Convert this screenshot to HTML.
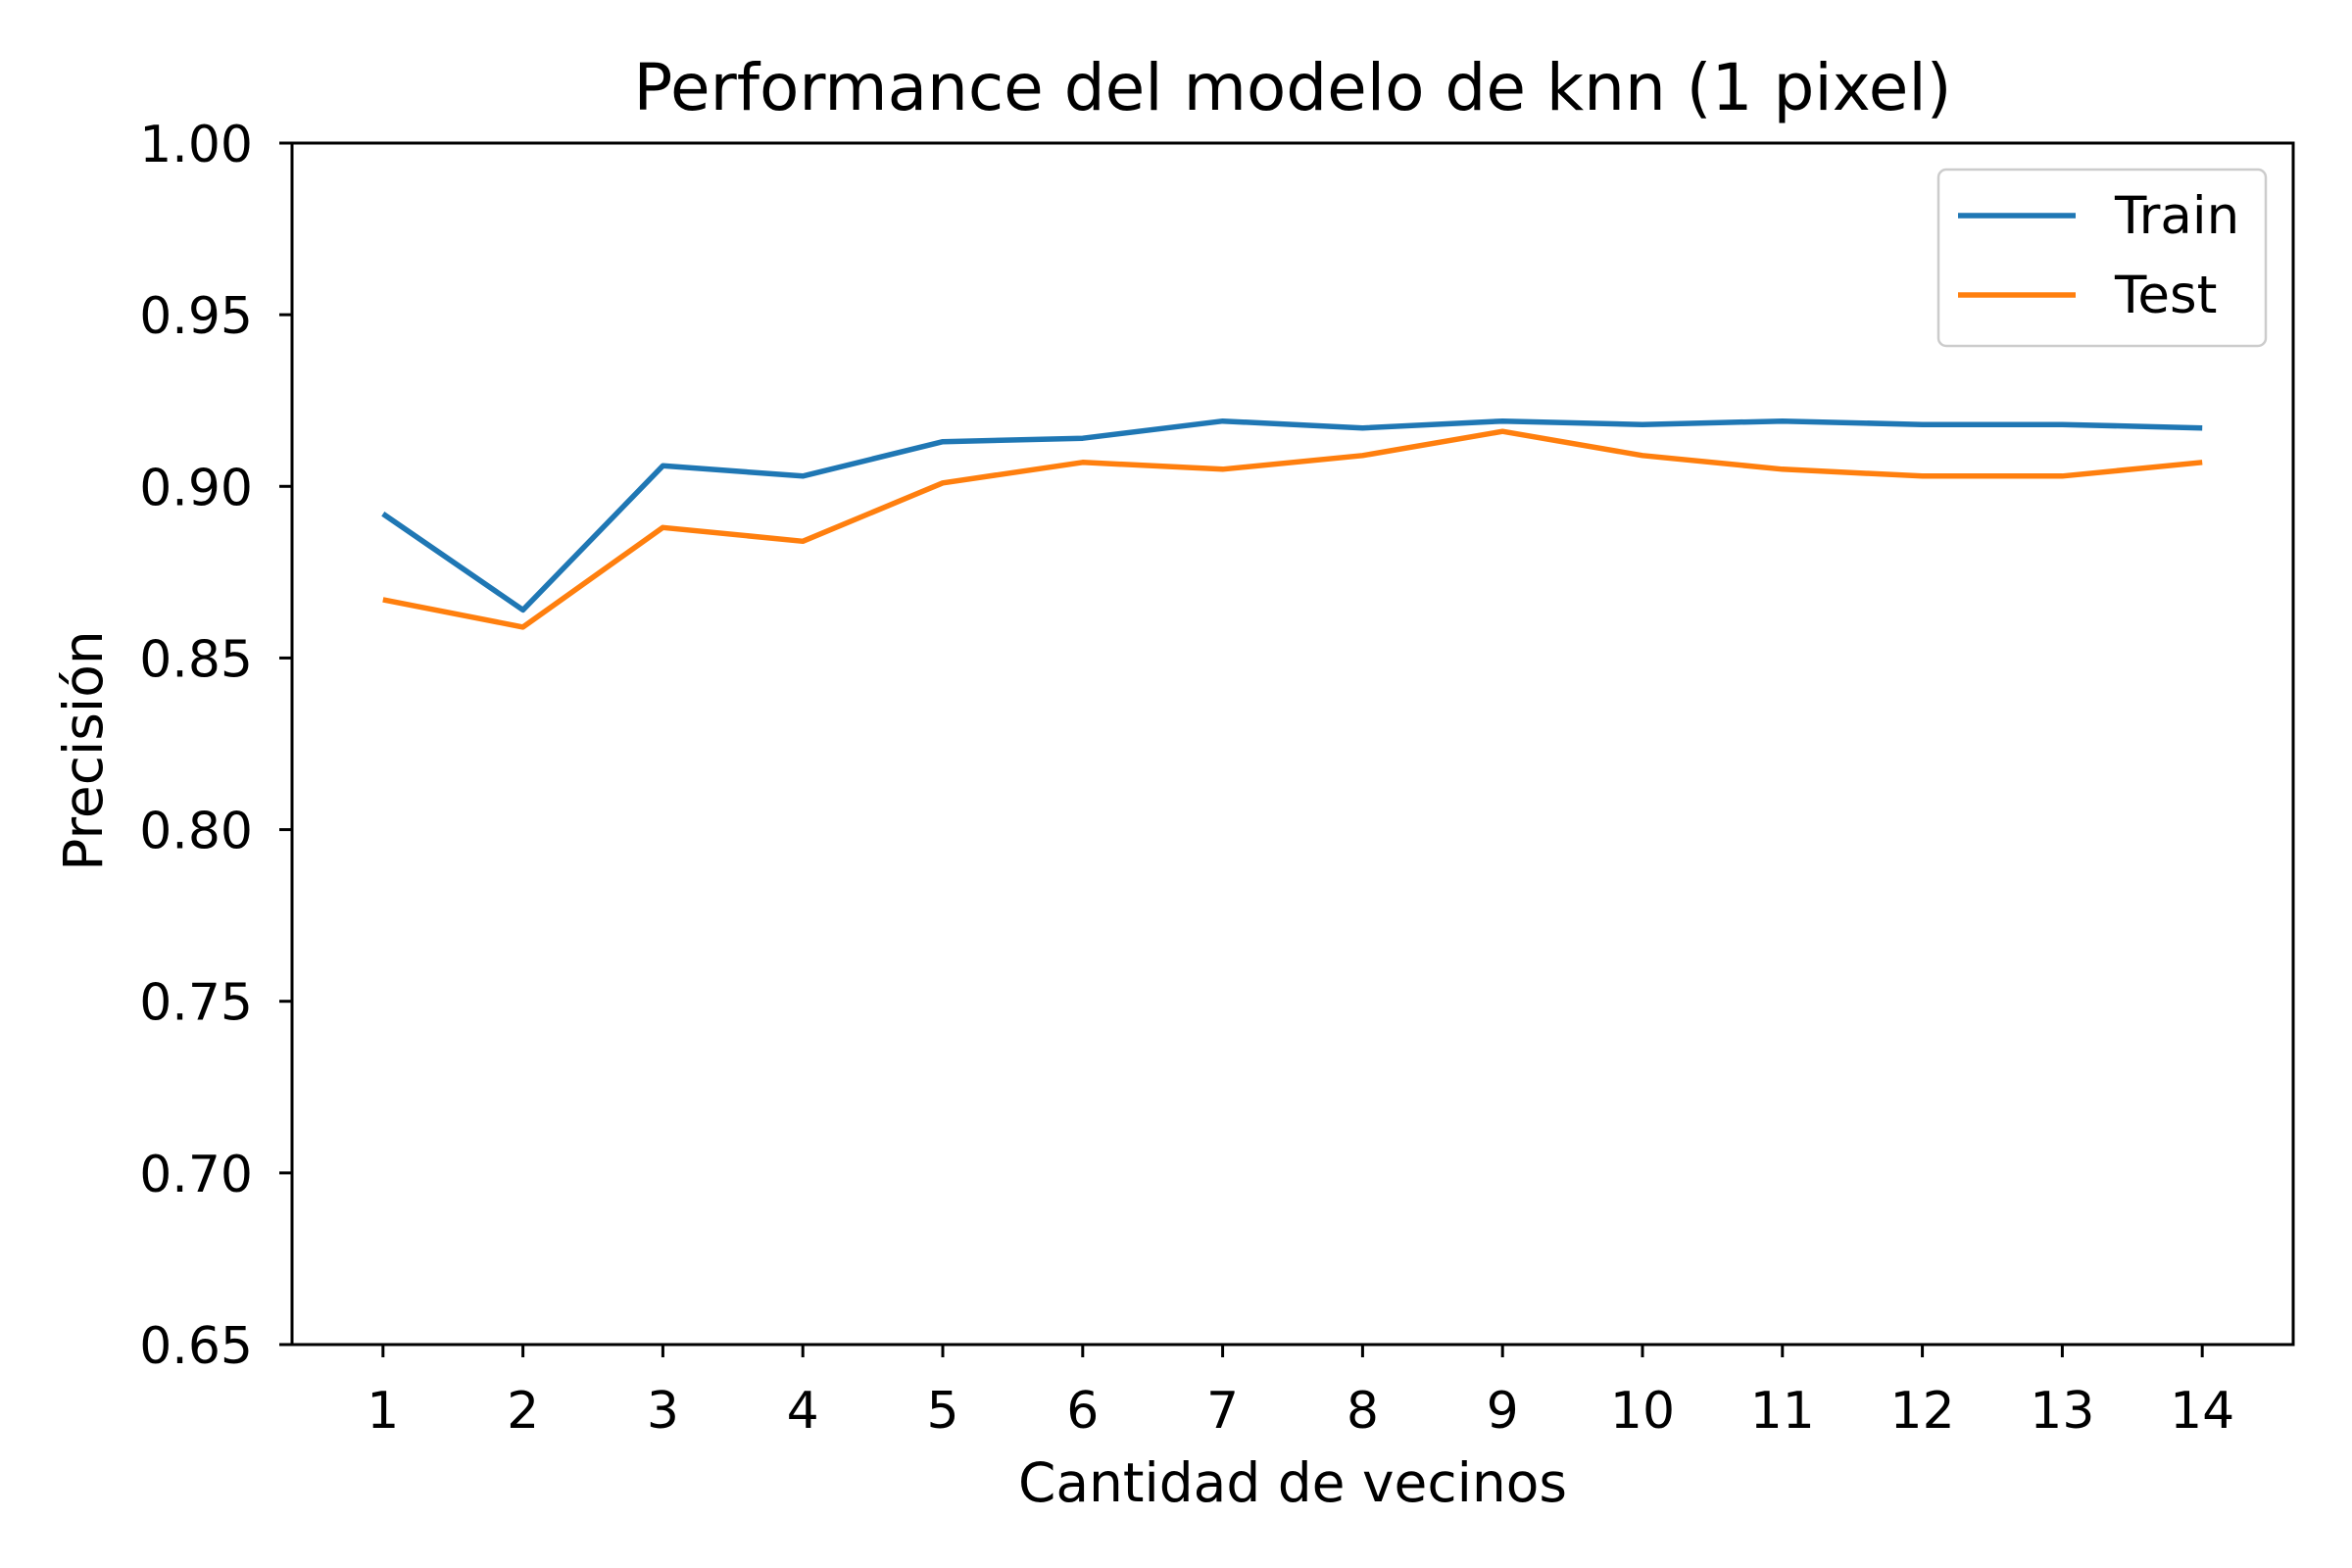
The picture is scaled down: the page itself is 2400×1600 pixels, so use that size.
<!DOCTYPE html>
<html><head><meta charset="utf-8"><style>body{margin:0;background:#fff}svg{display:block}text{font-family:"DejaVu Sans","Liberation Sans",sans-serif;fill:#000}</style></head>
<body>
<svg id="chart" width="2400" height="1600" viewBox="0 0 2400 1600">
<rect width="2400" height="1600" fill="#fff"/>
<text x="1319" y="112" font-size="66" text-anchor="middle">Performance del modelo de knn (1 pixel)</text>
<g id="axes"></g>
<g id="series"></g>
<text x="1319" y="1532" font-size="55" text-anchor="middle">Cantidad de vecinos</text>
<text x="0" y="0" font-size="55" text-anchor="middle" transform="translate(104,766) rotate(-90)">Precisión</text>
<g>
<rect x="1978" y="173" width="334" height="180" rx="8" fill="#fff" fill-opacity="0.8" stroke="#ccc" stroke-width="2.5"/>
<line x1="1998" y1="220" x2="2118" y2="220" stroke="#1f77b4" stroke-width="5.5"/>
<text x="2158" y="238" font-size="53">Train</text>
<line x1="1998" y1="301" x2="2118" y2="301" stroke="#ff7f0e" stroke-width="5.5"/>
<text x="2158" y="319" font-size="53">Test</text>
</g>
</svg>
<script>
const categories = [1,2,3,4,5,6,7,8,9,10,11,12,13,14];
const trainValues = [0.892,0.864,0.906,0.903,0.913,0.914,0.919,0.917,0.919,0.918,0.919,0.918,0.918,0.917];
const testValues = [0.867,0.859,0.888,0.884,0.901,0.907,0.905,0.909,0.916,0.909,0.905,0.903,0.903,0.907];
const yTicks = [0.65,0.70,0.75,0.80,0.85,0.90,0.95,1.00];

const NS = 'http://www.w3.org/2000/svg';
const L = 298, R = 2340, T = 146, B = 1372;
const xMin = 0.35, xMax = 14.65, yMin = 0.65, yMax = 1.0;
const xs = v => L + (v - xMin) / (xMax - xMin) * (R - L);
const ys = v => B - (v - yMin) / (yMax - yMin) * (B - T);
function mk(tag, attrs, parent) { const e = document.createElementNS(NS, tag); for (const k in attrs) e.setAttribute(k, attrs[k]); parent.appendChild(e); return e; }
const axes = document.getElementById('axes');
const series = document.getElementById('series');

yTicks.forEach(t => {
  const y = ys(t);
  const tk = mk('line', {x1: L - 13, x2: L, y1: y, y2: y, stroke: '#000', 'stroke-width': 3}, axes);
  
  
  const lb = mk('text', {x: L - 40, y: y + 19, 'font-size': 52, 'text-anchor': 'end'}, axes);
  lb.textContent = t.toFixed(2);
  
  
});
categories.forEach(c => {
  const x = xs(c);
  const tk = mk('line', {x1: x, x2: x, y1: B, y2: B + 13, stroke: '#000', 'stroke-width': 3}, axes);
  
  
  const lb = mk('text', {x: x, y: B + 85, 'font-size': 52, 'text-anchor': 'middle'}, axes);
  lb.textContent = String(c);
  
  
});
function drawLine(vals, color, name) {
  const pts = vals.map((v, i) => xs(categories[i]).toFixed(1) + ',' + ys(v).toFixed(1)).join(' ');
  const pl = mk('polyline', {points: pts, fill: 'none', stroke: color, 'stroke-width': 5.5, 'stroke-linejoin': 'round'}, series);
  
  
}
drawLine(trainValues, '#1f77b4', 'train-line');
drawLine(testValues, '#ff7f0e', 'test-line');
const frame = mk('rect', {x: L, y: T, width: R - L, height: B - T, fill: 'none', stroke: '#000', 'stroke-width': 3}, axes);


</script>
</body></html>
